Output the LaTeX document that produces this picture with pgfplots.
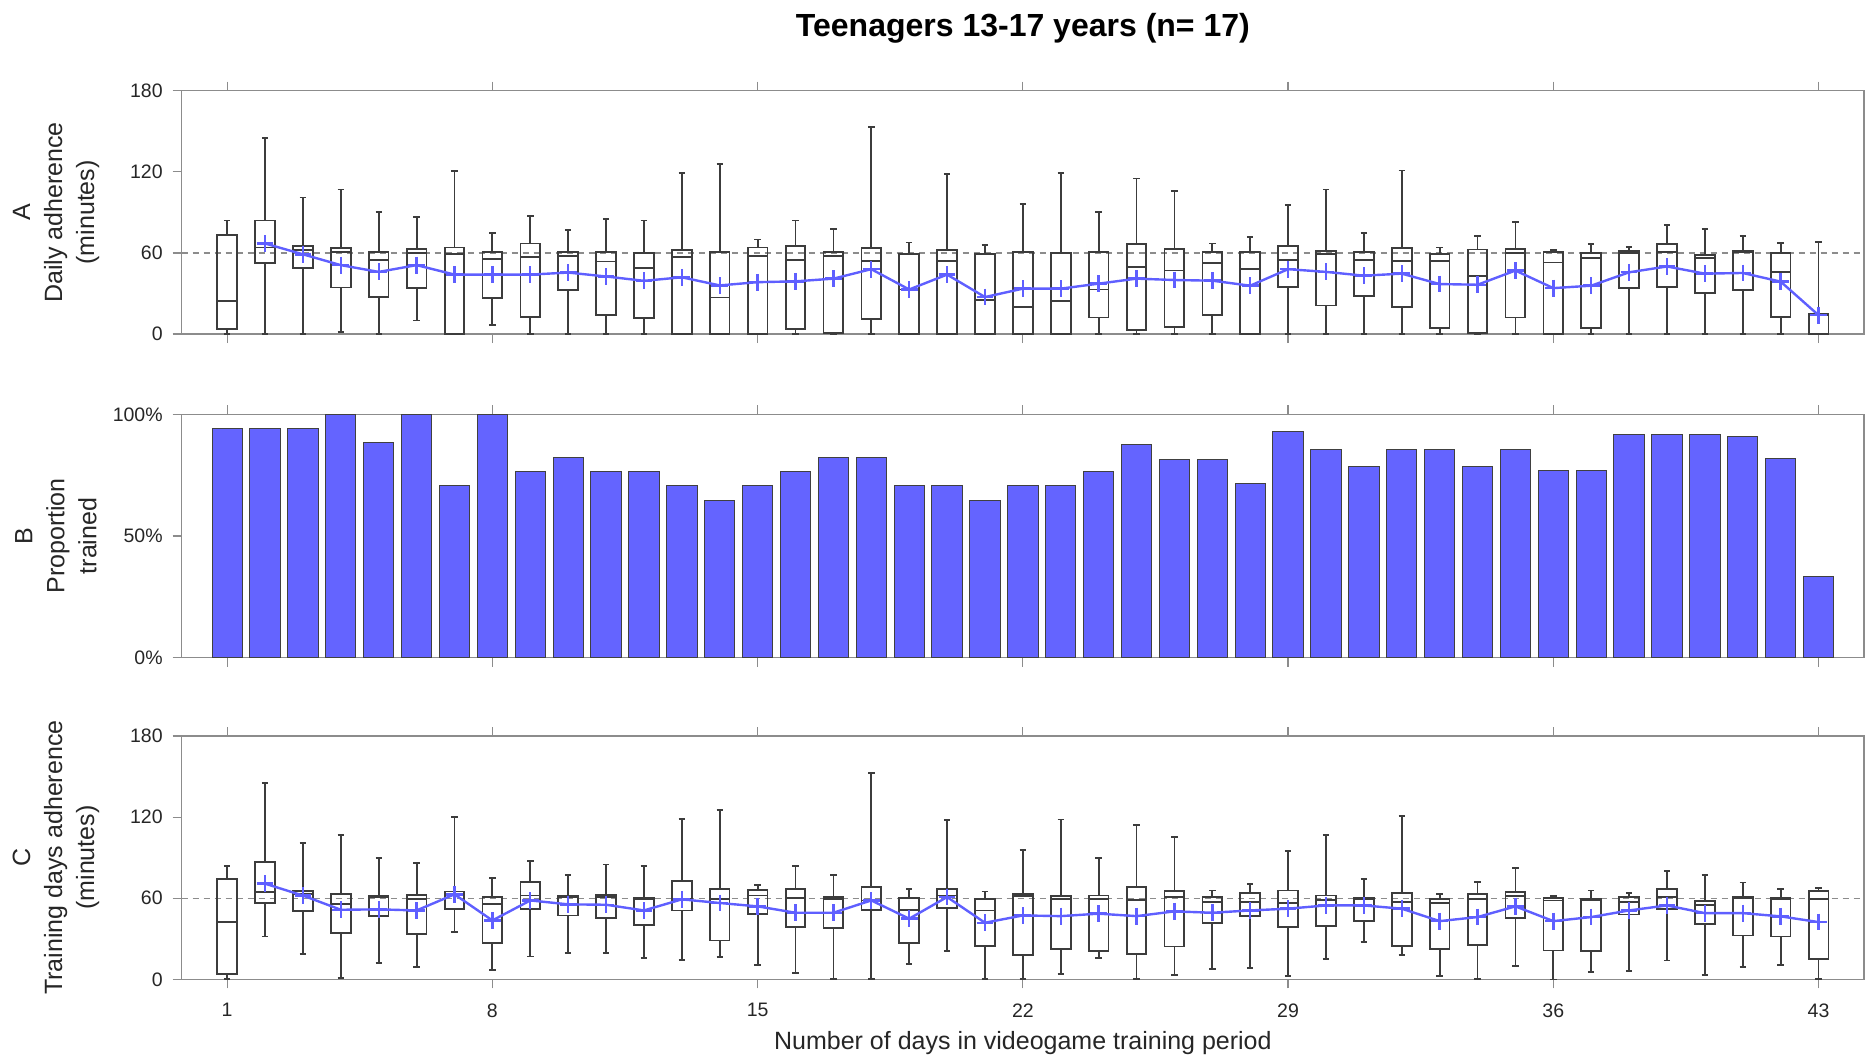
\documentclass[border=0pt]{standalone}
\usepackage{pgfplots}
\pgfplotsset{compat=1.18}
\usepackage{pgfplotstable}
\usepgfplotslibrary{statistics}
\usepackage{fontspec}
\setmainfont{Liberation Sans}
\definecolor{meanblue}{RGB}{95,95,255}
\definecolor{barblue}{RGB}{100,100,255}
\definecolor{boxgray}{RGB}{60,60,60}
\definecolor{axgray}{RGB}{140,140,140}
\definecolor{txtgray}{RGB}{38,38,38}

\pgfplotstableread{
day lw lq med uq uw mean
1 0 4 24.6 73 84 nan
2 0 52.5 64 84 145 67
3 0 49 62 65 101 59
4 1.5 34.5 61 63.5 107 51
5 0 27.6 55 61 90 46
6 10 34 60 63 86.4 51
7 0 0 59 64 120.7 44
8 6.6 26.6 55.6 61 75 44
9 0 12.5 57 67 87.4 44
10 0 32.7 58 61 77 45.5
11 0 14 53.7 60.6 85.4 42.6
12 0 12 49 60 84 39.4
13 0 0 57 62 119 42
14 0 0 27 61 126 36
15 0 0 58 64 70 38.4
16 0 3.7 55 65.4 84 39
17 0 0.7 57.5 60.7 78 41
18 0 11.4 54.3 63.7 153 48
19 0 0 33 59.5 67.7 33
20 0 0 53.8 62 118.5 44
21 0 0 25 59.5 66 27.4
22 0 0 20 61 96 33.6
23 0 0 24.7 60 119 33.6
24 0 12.3 33 60.7 90 37.3
25 0 3.2 49.6 66.7 115 41
26 0 5 47 62.7 105.7 40
27 0 14.3 52.6 60.7 67 39.5
28 0 0 48.4 60.7 71.6 35.8
29 0 34.8 55 65.4 95.3 48
30 0 21.2 59.5 61.7 107 46
31 0 27.9 55 60.7 74.6 43.2
32 0 19.8 54.3 63.7 121 44.7
33 0 4.4 53.8 59.5 64 37
34 0 0.7 43.2 62.5 72.8 36.5
35 0 12.3 60 62.7 82.7 47
36 0 0 53 60.5 62.2 34
37 0 4.4 56.3 60 66.7 35.8
38 0 34 60 61.2 64.7 45.7
39 0 34.8 60.5 66.4 80.7 50
40 0 30.4 56.3 58.5 77.5 44.7
41 0 32.8 60.5 61.2 72.6 45.2
42 0 12.6 46 60 67.4 38.8
43 0 0 14.3 15.3 68 14
}\tabA

\pgfplotstableread{
day p
1 94.12
2 94.12
3 94.12
4 100
5 88.24
6 100
7 70.59
8 100
9 76.47
10 82.35
11 76.47
12 76.47
13 70.59
14 64.71
15 70.59
16 76.47
17 82.35
18 82.35
19 70.59
20 70.59
21 64.71
22 70.59
23 70.59
24 76.47
25 87.5
26 81.25
27 81.25
28 71.43
29 92.86
30 85.71
31 78.57
32 85.71
33 85.71
34 78.57
35 85.71
36 76.92
37 76.92
38 91.67
39 91.67
40 91.67
41 90.91
42 81.82
43 33.33
}\tabB

\pgfplotstableread{
day lw lq med uq uw mean
1 0.5 3.7 42.2 74.2 83.6 nan
2 31.8 56.7 64.6 86.8 145 70.8
3 19 50.5 63.4 65.3 100.8 62
4 1 34.3 56 63.4 106.5 51.5
5 12 46.6 60.9 61.9 89.7 51.8
6 9 33.8 59.7 62.4 86 51
7 35 52.3 63.4 65 120 62.9
8 6.7 26.9 56 60.9 75.2 43.6
9 17 51.8 62.1 72 87.3 58.4
10 19.5 47.3 60.9 61.4 77.2 55.5
11 19.5 45.6 60.9 62.4 85 55.2
12 15.8 40 59.7 60.4 83.6 51
13 14.5 51 59.7 72.7 118.8 59.2
14 16.5 28.8 59.7 67 125.5 56.5
15 10.6 48.3 62 66 70 54
16 4.7 38.7 60.4 67 83.6 49.3
17 0.5 38 59.7 60.9 77.4 49.3
18 0.5 51.5 58.4 68.3 152.6 58.4
19 11.6 27.1 51.5 60.2 67 44.9
20 21 53 62 66.6 118 60.9
21 0.5 24.7 51 59.2 65 41.9
22 0.5 18.2 61.4 62.9 95.4 47.3
23 3.7 22.7 59.7 61.6 118.3 46.8
24 16 21 59.7 62.1 89.5 48.6
25 0.5 19 58.9 68.3 114.4 46.8
26 3 24.4 60.9 65.3 105.3 50.3
27 7.9 41.7 57.2 60.9 65.8 49.3
28 8.6 46.6 57.2 63.9 70.8 51
29 2.5 38.7 56.5 65.8 94.7 52.3
30 15.3 39.2 58.9 62.1 106.5 54.7
31 27.6 42.9 59.2 60.4 74 54.7
32 17.8 24.9 57.2 63.9 120.6 52.3
33 2.5 22.2 56.5 59.2 63.4 43.1
34 0.5 25.6 59.7 62.9 72 46.1
35 9.9 45.4 61.6 64.6 82.6 54
36 0 21.4 58.4 60.2 61.9 43.1
37 5.4 21 58.4 59.2 65.8 46.1
38 6.2 48 57 60.9 63.9 51
39 14 52.3 60.9 66.6 80 54.7
40 3 40.7 55.2 58 77 49
41 9 32.5 60.4 60.9 71.7 49
42 10.4 31.8 59.2 60.4 67 46.6
43 0.5 15 59.7 65.3 67.6 42.4
}\tabC

\newcommand\boxrow[2]{%
  \pgfplotstablegetelem{#2}{lw}\of#1\edef\bLW{\pgfplotsretval}%
  \pgfplotstablegetelem{#2}{lq}\of#1\edef\bLQ{\pgfplotsretval}%
  \pgfplotstablegetelem{#2}{med}\of#1\edef\bMED{\pgfplotsretval}%
  \pgfplotstablegetelem{#2}{uq}\of#1\edef\bUQ{\pgfplotsretval}%
  \pgfplotstablegetelem{#2}{uw}\of#1\edef\bUW{\pgfplotsretval}%
  \pgfplotstablegetelem{#2}{day}\of#1\edef\bPos{\pgfplotsretval}%
  \edef\bCmd{\noexpand\addplot[boxgray, line width=0.9pt, solid,
    boxplot prepared={draw position=\bPos, lower whisker=\bLW, lower quartile=\bLQ,
      median=\bMED, upper quartile=\bUQ, upper whisker=\bUW}] coordinates {};}%
  \bCmd
}

\pgfplotsset{
  panel/.style={
    scale only axis, width=841.15pt, height=121.7pt,
    anchor=north west,
    xmin=-0.2, xmax=44.2,
    xtick={1,8,15,22,29,36,43},
    tick align=outside, xtick pos=both, ytick pos=left,
    major tick length=4.5pt,
    axis line style={axgray, line width=0.6pt},
    tick style={axgray, line width=0.6pt},
    tick label style={font=\fontsize{9.75}{11.7}\selectfont, text=txtgray},
    /pgf/number format/assume math mode=true,
    yticklabel style={xshift=-1.5pt},
    xticklabel style={yshift=-4pt},
  },
  boxpanel/.style={panel, ymin=0, ymax=180, ytick={0,60,120,180},
    boxplot/draw direction=y, boxplot/box extend=0.52, boxplot/whisker extend=0.17},
}

\begin{document}
\begin{tikzpicture}
\path[use as bounding box] (0,0) rectangle (932.5pt,-529.5pt);

% Panel A
\begin{axis}[boxpanel, at={(90.85pt,-45.35pt)}, xticklabels={}]
\addplot[axgray, line width=0.6pt, dash pattern=on 3pt off 2.5pt] coordinates {(-0.2,60) (44.2,60)};
\pgfplotsinvokeforeach{0,...,42}{\boxrow{\tabA}{#1}}
\addplot[meanblue, line width=1.2pt, mark=+, mark size=4.2pt] table[x=day, y=mean] {\tabA};
\end{axis}

% Panel B
\begin{axis}[panel, at={(90.85pt,-207.15pt)}, xticklabels={},
  ymin=0, ymax=100, ytick={0,50,100}, yticklabels={0\%,50\%,100\%}]
\addplot[ybar, bar width=0.8, bar shift=0pt, fill=barblue, draw=black!75, line width=0.5pt] table[x=day, y=p] {\tabB};
\end{axis}

% Panel C
\begin{axis}[boxpanel, at={(90.85pt,-368pt)}, xticklabels={1,8,15,22,29,36,43}]
\addplot[axgray, line width=0.6pt, dash pattern=on 3pt off 2.5pt] coordinates {(-0.2,60) (44.2,60)};
\pgfplotsinvokeforeach{0,...,42}{\boxrow{\tabC}{#1}}
\addplot[meanblue, line width=1.2pt, mark=+, mark size=4.2pt] table[x=day, y=mean] {\tabC};
\end{axis}

% Titles and labels
\node[font=\bfseries\fontsize{16}{19}\selectfont, anchor=base] at (511.45pt,-18.35pt) {Teenagers 13-17 years (n= 17)};
\node[rotate=90, align=center, font=\fontsize{12.5}{16}\selectfont, text=txtgray] at (28pt,-106.2pt) {A\\Daily adherence\\(minutes)};
\node[rotate=90, align=center, font=\fontsize{12.5}{16}\selectfont, text=txtgray] at (28pt,-268pt) {B\\Proportion\\trained};
\node[rotate=90, align=center, font=\fontsize{12.5}{16}\selectfont, text=txtgray] at (28pt,-428.8pt) {C\\Training days adherence\\(minutes)};
\node[font=\fontsize{12.5}{15}\selectfont, text=txtgray, anchor=base] at (511.45pt,-524.7pt) {Number of days in videogame training period};
\end{tikzpicture}
\end{document}
